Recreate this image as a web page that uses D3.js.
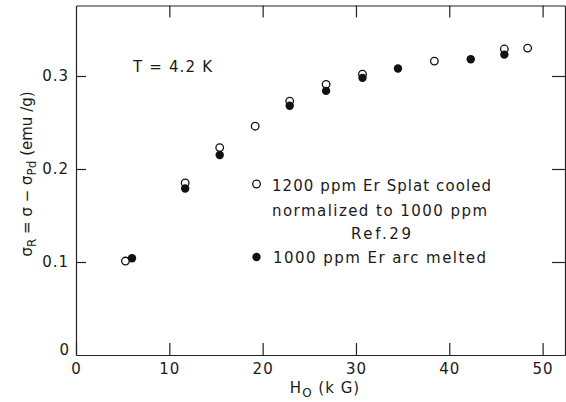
<!DOCTYPE html>
<html>
<head>
<meta charset="utf-8">
<script src="https://cdn.jsdelivr.net/npm/d3@7"></script>
<style>
  html, body { margin: 0; padding: 0; background: #fff; }
  svg { display: block; font-family: "DejaVu Sans", sans-serif; }
  .axis path, .axis line { stroke: #222; stroke-width: 1.2; }
  .axis text { fill: #1a1a1a; font-size: 15px; font-family: "DejaVu Sans", sans-serif; letter-spacing: 1px; }
  .lbl { fill: #1a1a1a; font-size: 15px; }
</style>
</head>
<body>
<svg id="chart" width="566" height="402"></svg>
<script>
// Field values (kG) and residual magnetization (emu/g)
const splatField = [5.3, 11.7, 15.4, 19.2, 22.9, 26.8, 30.7, 38.4, 45.9, 48.4];
const splatSigma = [0.101, 0.185, 0.223, 0.246, 0.273, 0.291, 0.302, 0.316, 0.329, 0.330];
const arcField = [6.0, 11.7, 15.4, 22.9, 26.8, 30.7, 34.5, 42.3, 45.9];
const arcSigma = [0.104, 0.179, 0.215, 0.268, 0.284, 0.298, 0.308, 0.318, 0.323];
const xTicks = [0, 10, 20, 30, 40, 50];
const yTicks = [0, 0.1, 0.2, 0.3];
const yTickLabels = ["0", "0.1", "0.2", "0.3"];

const svg = d3.select("#chart");
const plotL = 76, plotR = 565, plotT = 5.5, plotB = 355;

const x = d3.scaleLinear().domain([0, 52.4]).range([plotL, plotR]);
const y = d3.scaleLinear().domain([0, 0.3758]).range([plotB, plotT]);

// Frame with inward ticks on all four sides
svg.append("g").attr("class", "axis")
  .attr("transform", `translate(0,${plotB})`)
  .call(d3.axisBottom(x).tickValues(xTicks).tickSize(-12).tickSizeOuter(0).tickPadding(8)
        .tickFormat(d3.format("d")));
svg.append("g").attr("class", "axis")
  .attr("transform", `translate(0,${plotT})`)
  .call(d3.axisTop(x).tickValues(xTicks.slice(1)).tickSize(-12).tickSizeOuter(0).tickFormat(""));
svg.append("g").attr("class", "axis")
  .attr("transform", `translate(${plotL},0)`)
  .call(d3.axisLeft(y).tickValues(yTicks.slice(1)).tickSize(-10).tickSizeOuter(0).tickPadding(7)
        .tickFormat((d, i) => yTickLabels[i + 1]));
svg.append("g").attr("class", "axis")
  .attr("transform", `translate(${plotR},0)`)
  .call(d3.axisRight(y).tickValues(yTicks.slice(1)).tickSize(-13).tickSizeOuter(0).tickFormat(""));

// Origin label on the y axis
svg.append("text").attr("class", "lbl")
  .attr("x", plotL - 7).attr("y", y(0) - 5)
  .attr("text-anchor", "end").attr("dy", "0.35em").text(yTickLabels[0]);

// Axis titles
const xt = svg.append("text").attr("class", "lbl")
  .attr("x", 325).attr("y", 393).attr("text-anchor", "middle")
  .style("letter-spacing", "1px");
xt.append("tspan").text("H");
xt.append("tspan").attr("dy", 4).attr("font-size", 12).text("O");
xt.append("tspan").attr("dy", -4).text(" (k G)");

const yt = svg.append("text").attr("class", "lbl")
  .attr("transform", `translate(32,${174}) rotate(-90)`).attr("text-anchor", "middle");
yt.append("tspan").text("σ");
yt.append("tspan").attr("dy", 4).attr("font-size", 12).text("R");
yt.append("tspan").attr("dy", -4).text(" = σ − σ");
yt.append("tspan").attr("dy", 4).attr("font-size", 12).text("Pd");
yt.append("tspan").attr("dy", -4).text(" (emu /g)");

// Temperature annotation
svg.append("text").attr("class", "lbl").attr("x", 133).attr("y", 72)
  .attr("textLength", 79).attr("lengthAdjust", "spacing").text("T = 4.2 K");

// Data points
svg.append("g").selectAll("circle").data(splatField)
  .join("circle")
  .attr("cx", d => x(d)).attr("cy", (d, i) => y(splatSigma[i])).attr("r", 3.8)
  .attr("fill", "#fff").attr("stroke", "#111").attr("stroke-width", 1.3);
svg.append("g").selectAll("circle").data(arcField)
  .join("circle")
  .attr("cx", d => x(d)).attr("cy", (d, i) => y(arcSigma[i])).attr("r", 4.2)
  .attr("fill", "#111");

// Legend
svg.append("circle").attr("cx", 256.5).attr("cy", 184).attr("r", 3.8)
  .attr("fill", "#fff").attr("stroke", "#111").attr("stroke-width", 1.3);
svg.append("circle").attr("cx", 256.5).attr("cy", 257).attr("r", 4.2).attr("fill", "#111");
svg.append("text").attr("class", "lbl").attr("x", 272).attr("y", 191)
  .attr("textLength", 219).attr("lengthAdjust", "spacing").text("1200 ppm Er Splat cooled");
svg.append("text").attr("class", "lbl").attr("x", 272).attr("y", 216)
  .attr("textLength", 215).attr("lengthAdjust", "spacing").text("normalized to 1000 ppm");
svg.append("text").attr("class", "lbl").attr("x", 351).attr("y", 239)
  .attr("textLength", 60).attr("lengthAdjust", "spacing").text("Ref.29");
svg.append("text").attr("class", "lbl").attr("x", 273).attr("y", 263)
  .attr("textLength", 213).attr("lengthAdjust", "spacing").text("1000 ppm Er arc melted");
</script>
</body>
</html>
